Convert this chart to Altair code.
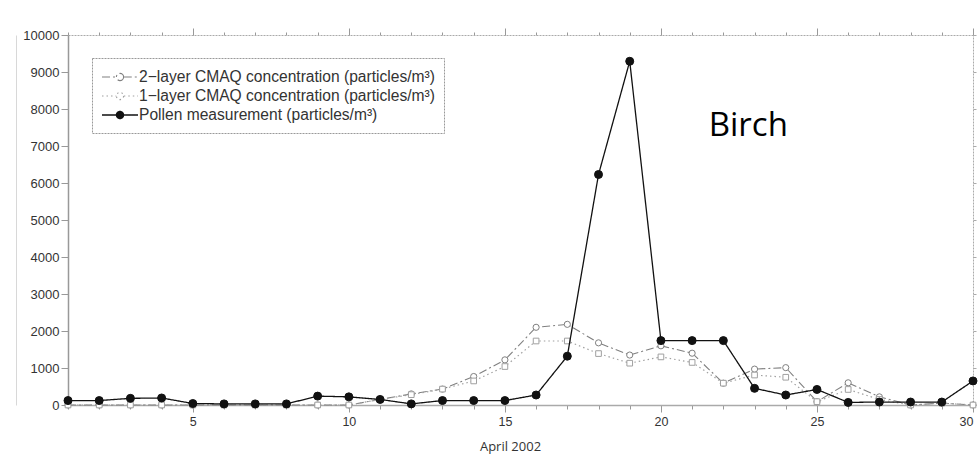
import altair as alt
import pandas as pd

days = list(range(1, 31))
pollen = [120, 120, 180, 190, 40, 30, 30, 30, 240, 220, 150, 30, 120, 120, 120,
          270, 1320, 6230, 9290, 1740, 1740, 1740, 450, 270, 420, 70, 80, 80, 80, 650]
cmaq2 = [0, 0, 0, 0, 0, 0, 0, 0, 0, 0, 150, 300, 430, 770, 1220,
         2100, 2180, 1680, 1350, 1600, 1400, 590, 970, 1010, 90, 600, 220, 0, 50, 0]
cmaq1 = [0, 0, 0, 0, 0, 0, 0, 0, 0, 0, 150, 280, 430, 650, 1040,
         1730, 1730, 1390, 1130, 1300, 1150, 590, 810, 750, 90, 420, 150, 0, 50, 0]

s2 = "2\u2212layer CMAQ concentration (particles/m\u00b3)"
s1 = "1\u2212layer CMAQ concentration (particles/m\u00b3)"
sp = "Pollen measurement (particles/m\u00b3)"
series_order = [s2, s1, sp]

major_days = [5, 10, 15, 20, 25, 30]
y_ticks = list(range(0, 10001, 1000))

annot_text = ["Birch"]
annot_day = [22.8]
annot_val = [7540]

rows = []
for name, vals in [(s2, cmaq2), (s1, cmaq1), (sp, pollen)]:
    for d, v in zip(days, vals):
        rows.append({"day": d, "value": v, "series": name})
df = pd.DataFrame(rows)
ann = pd.DataFrame({"day": annot_day, "value": annot_val, "text": annot_text})

xs = alt.Scale(domain=[1, 30], nice=False, zero=False)
ys = alt.Scale(domain=[0, 10000], nice=False)

# legend glyph: a line with a small marker in its middle (unit path, scaled by sqrt(size)/2)
sym_path = "M-1,0L0.58,0M1.42,0L3,0M1.4,0A0.4,0.4,0,1,1,0.6,0A0.4,0.4,0,1,1,1.4,0Z"
leg = alt.Legend(
    title=None, orient="none", legendX=24, legendY=23,
    symbolType=sym_path, symbolSize=324,
    labelFont="Liberation Sans", labelFontSize=15.6, labelColor="#333", labelLimit=600,
    rowPadding=0, padding=9, labelOffset=18,
    strokeColor="#999",
)

stroke_scale = alt.Scale(domain=series_order, range=["#808080", "#a0a0a0", "#111111"])
dash_scale = alt.Scale(domain=series_order, range=[[8, 3, 2, 3], [1.5, 3], [1, 0]])
width_scale = alt.Scale(domain=series_order, range=[1.1, 1.3, 2.4])
fill_scale = alt.Scale(domain=series_order, range=["#ffffff", "#ffffff", "#111111"])

label_font = "Liberation Sans"

ax_bottom_major = alt.Axis(orient="bottom", values=major_days, tickSize=7, labelFontSize=12.5,
                           labelFont=label_font, labelColor="#333", tickColor="#999",
                           domainColor="#aaa", domainWidth=1.3, labelPadding=3,
                           title="April 2002", titleFont="Open Sans", titleFontSize=13,
                           titleFontWeight="normal", titleColor="#333", titlePadding=13,
                           titleX=442, titleAlign="center",
                           grid=False, format="d")
ax_bottom_minor = alt.Axis(orient="bottom", values=days, tickSize=4, labels=False, domain=False,
                           tickColor="#999", title=None, grid=False)
ax_top_minor = alt.Axis(orient="top", values=days, tickSize=3, labels=False, domainColor="#aaa",
                        domainDash=[2, 1], tickColor="#999", title=None, grid=False)
ax_top_major = alt.Axis(orient="top", values=major_days, tickSize=7, labels=False, domain=False,
                        tickColor="#999", title=None, grid=False)
ax_left = alt.Axis(orient="left", values=y_ticks, tickSize=7, labelFontSize=13, labelFont=label_font,
                   labelColor="#333", tickColor="#999", domainColor="#999", domainWidth=1.5,
                   labelPadding=2, title=None, grid=False, format="d")
ax_right = alt.Axis(orient="right", values=y_ticks, tickSize=3, labels=False, domainColor="#aaa",
                    domainDash=[2, 1], tickColor="#aaa", title=None, grid=False)
ax_border = alt.Axis(orient="left", offset=52, ticks=False, labels=False, domainColor="#d8d8d8",
                     domainWidth=1, title=None, grid=False)

base = alt.Chart(df)

def line_layer(name, xaxis, yaxis):
    return base.transform_filter(alt.datum.series == name).mark_line().encode(
        x=alt.X("day:Q", scale=xs, axis=xaxis),
        y=alt.Y("value:Q", scale=ys, axis=yaxis),
        stroke=alt.Stroke("series:N", scale=stroke_scale, legend=leg),
        strokeDash=alt.StrokeDash("series:N", scale=dash_scale, legend=leg),
        strokeWidth=alt.StrokeWidth("series:N", scale=width_scale, legend=leg),
    )

l2 = line_layer(s2, ax_top_minor, ax_border)
l1 = line_layer(s1, ax_bottom_minor, ax_right)
lp = line_layer(sp, ax_bottom_major, ax_left)

def point_layer(name, shape, size, color, xaxis):
    return base.transform_filter(alt.datum.series == name).mark_point(
        shape=shape, filled=True, size=size, stroke=color, strokeWidth=1, opacity=1
    ).encode(
        x=alt.X("day:Q", scale=xs, axis=xaxis),
        y=alt.Y("value:Q", scale=ys, axis=None),
        fill=alt.Fill("series:N", scale=fill_scale, legend=leg),
    )

p2 = point_layer(s2, "circle", 38, "#808080", ax_top_major)
p1 = point_layer(s1, "square", 32, "#a0a0a0", None)
pp = point_layer(sp, "circle", 64, "#111111", None)

txt = alt.Chart(ann).mark_text(font="Open Sans", fontSize=33, color="#000", align="center",
                               baseline="middle").encode(
    x=alt.X("day:Q", scale=xs, axis=None),
    y=alt.Y("value:Q", scale=ys, axis=None),
    text="text:N",
)

chart = alt.layer(l2, l1, p2, p1, lp, pp, txt).resolve_axis(
    x="independent", y="independent"
).properties(
    width=905, height=370,
    autosize=alt.AutoSizeParams(type="none"),
    padding={"left": 68, "top": 35, "right": 5, "bottom": 65},
    background="white",
).configure_view(stroke=None).configure_legend(strokeDash=[2, 1], cornerRadius=0)

chart.save("out.html", embed_options={"renderer": "svg", "actions": False})
